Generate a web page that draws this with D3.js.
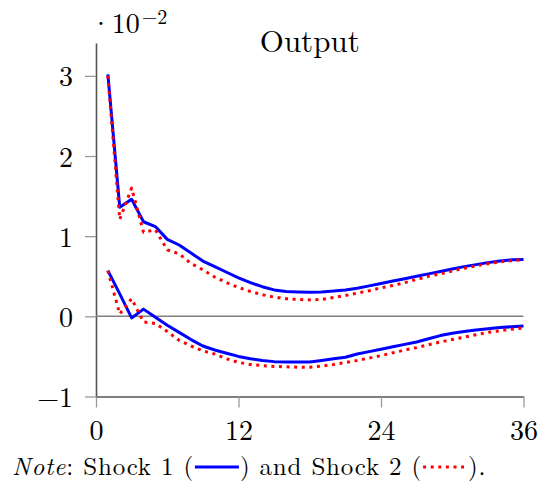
<!DOCTYPE html>
<html>
<head>
<meta charset="utf-8">
<script src="https://cdn.jsdelivr.net/npm/d3@7"></script>
<style>
  html, body { margin: 0; padding: 0; background: #fff; }
  svg { display: block; }
  text { font-family: "Latin Modern Roman", "CMU Serif", "Liberation Serif", "DejaVu Serif", serif; fill: #000; }
</style>
</head>
<body>
<svg id="chart" width="540" height="483"></svg>
<script>
// ---- data (values in units of 10^-2) ----
const months = [1,2,3,4,5,6,7,8,9,10,11,12,13,14,15,16,17,18,19,20,21,22,23,24,25,26,27,28,29,30,31,32,33,34,35,36];
const shock1Upper = [3.02,1.36,1.46,1.18,1.12,0.96,0.89,0.79,0.69,0.62,0.55,0.48,0.42,0.37,0.33,0.31,0.305,0.30,0.305,0.315,0.33,0.35,0.38,0.41,0.44,0.47,0.50,0.53,0.56,0.59,0.62,0.645,0.67,0.69,0.705,0.71];
const shock2Upper = [3.00,1.21,1.60,1.05,1.08,0.83,0.78,0.66,0.58,0.49,0.42,0.36,0.31,0.27,0.24,0.22,0.21,0.205,0.21,0.235,0.26,0.29,0.32,0.355,0.385,0.42,0.46,0.50,0.53,0.565,0.60,0.63,0.655,0.68,0.695,0.705];
const shock1Lower = [0.57,0.28,-0.02,0.09,-0.01,-0.11,-0.20,-0.29,-0.37,-0.42,-0.46,-0.50,-0.53,-0.55,-0.565,-0.57,-0.57,-0.57,-0.55,-0.53,-0.51,-0.47,-0.44,-0.41,-0.38,-0.35,-0.32,-0.28,-0.24,-0.21,-0.19,-0.17,-0.155,-0.14,-0.13,-0.12];
const shock2Lower = [0.57,0.03,0.22,-0.07,-0.09,-0.19,-0.30,-0.37,-0.43,-0.47,-0.53,-0.575,-0.60,-0.615,-0.625,-0.63,-0.635,-0.635,-0.62,-0.60,-0.575,-0.55,-0.52,-0.49,-0.455,-0.42,-0.39,-0.355,-0.32,-0.29,-0.26,-0.23,-0.20,-0.18,-0.16,-0.145];
const xTicks = [0,12,24,36];
const yTicks = [-1,0,1,2,3];
const xDomain = [0,36];
const yDomain = [-1,3.41];
const title = "Output";

// ---- layout ----
const svg = d3.select("#chart");
const x = d3.scaleLinear().domain(xDomain).range([96, 523.5]);
const y = d3.scaleLinear().domain(yDomain).range([396.5, 43]);

// axes
const yAxis = d3.axisLeft(y).tickValues(yTicks).tickSize(11).tickSizeOuter(0).tickPadding(12)
  .tickFormat(d => d < 0 ? "\u2212" + Math.abs(d) : String(d));
const xAxis = d3.axisBottom(x).tickValues(xTicks).tickSize(11).tickSizeOuter(0).tickPadding(13);

const gy = svg.append("g").attr("transform", `translate(${x(0)},0)`).call(yAxis);
const gx = svg.append("g").attr("transform", `translate(0,${y(-1)})`).call(xAxis);
[gx, gy].forEach(g => {
  g.select(".domain").attr("stroke", "#555").attr("stroke-width", 1.6);
  g.selectAll(".tick line").attr("stroke", "#999").attr("stroke-width", 1.3);
  g.selectAll(".tick text").attr("font-size", 28).attr("fill", "#000")
    .attr("font-family", '"Latin Modern Roman","CMU Serif","Liberation Serif",serif');
});
gy.selectAll(".tick text").attr("dy", "0.36em");

// zero line
svg.append("line")
  .attr("x1", x(0)).attr("x2", x(36))
  .attr("y1", y(0)).attr("y2", y(0))
  .attr("stroke", "#808080").attr("stroke-width", 1.5);

// lines
const line = d3.line().x((d, i) => x(months[i])).y(d => y(d));
const solid = (arr) => svg.append("path").datum(arr).attr("d", line)
  .attr("fill", "none").attr("stroke", "#0000ff").attr("stroke-width", 3)
  .attr("stroke-linejoin", "round");
const dotted = (arr) => svg.append("path").datum(arr).attr("d", line)
  .attr("fill", "none").attr("stroke", "#ff0000").attr("stroke-width", 3)
  .attr("stroke-dasharray", "3,4.6").attr("stroke-linejoin", "round");
solid(shock1Upper);
solid(shock1Lower);
dotted(shock2Upper);
dotted(shock2Lower);

// title
svg.append("text").attr("x", (x(0) + x(36)) / 2).attr("y", 52)
  .attr("text-anchor", "middle").attr("font-size", 31).text(title);

// exponent label (·10^−2)
const ten = svg.append("text").attr("x", 90).attr("y", 33).attr("font-size", 28).text("\u00B710");
const tenEnd = 90 + ten.node().getComputedTextLength();
svg.append("text").attr("x", tenEnd + 2).attr("y", 24).attr("font-size", 20).text("\u22122");

// note
const noteY = 475;
let cx = 12;
function addText(str, italic) {
  const t = svg.append("text").attr("x", cx).attr("y", noteY).attr("font-size", 25)
    .attr("letter-spacing", 0.8)
    .attr("font-style", italic ? "italic" : "normal").text(str);
  cx += t.node().getComputedTextLength();
}
function addLegend(color, dashed) {
  const l = svg.append("line").attr("x1", cx + 1).attr("x2", cx + 45)
    .attr("y1", noteY - 8).attr("y2", noteY - 8)
    .attr("stroke", color).attr("stroke-width", 3);
  if (dashed) l.attr("stroke-dasharray", "3,4.6");
  cx += 46;
}
addText("Note", true);
addText(": Shock 1 (", false);
addLegend("#0000ff", false);
addText(") and Shock 2 (", false);
addLegend("#ff0000", true);
addText(").", false);
</script>
</body>
</html>
